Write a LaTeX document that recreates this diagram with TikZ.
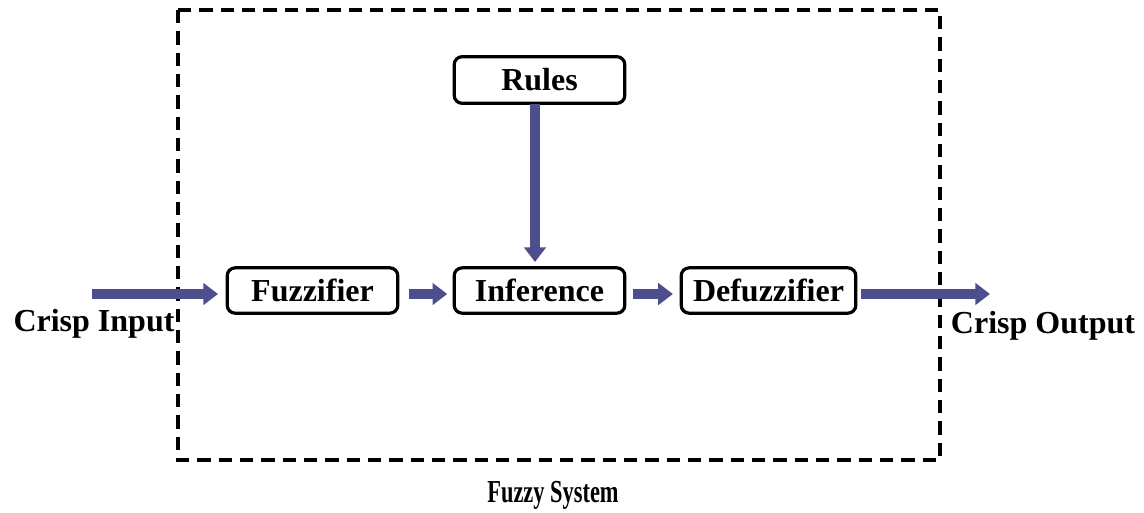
\documentclass[tikz,border=0pt]{standalone}
\usepackage{fontspec}
\usepackage{graphicx}
\setmainfont{Liberation Serif}
\usetikzlibrary{arrows.meta}
\definecolor{arrowblue}{HTML}{4C4E8E}
\begin{document}
\begin{tikzpicture}[x=0.75pt,y=-0.75pt,
  blk/.style={draw=black,line width=2.4pt,rounded corners=6pt,fill=white,font=\fontsize{24}{28}\selectfont\bfseries,inner sep=0pt},
  flow/.style={draw=arrowblue,line width=7.5pt,-{Triangle[length=11pt,width=16pt]}},
  lbl/.style={font=\fontsize{24}{28}\selectfont\bfseries,inner sep=0pt}]
\useasboundingbox (0,0) rectangle (1144,512);
\draw[line width=2.6pt,dash pattern=on 10pt off 6pt] (178,10) rectangle (940,460);
\node[blk,minimum width=128pt,minimum height=35pt] (rules) at (539.5,80) {Rules};
\node[blk,minimum width=128pt,minimum height=34pt] (fuzz) at (312.5,290.5) {Fuzzifier};
\node[blk,minimum width=128pt,minimum height=34pt] (inf) at (539.5,290.5) {Inference};
\node[blk,minimum width=131pt,minimum height=34pt] (def) at (768.5,290.5) {Defuzzifier};
\coordinate (inA) at (92,294);
\coordinate (inB) at (218,294);
\coordinate (outB) at (990,294);
\draw[flow] (inA) -- (inB);
\draw[flow] ([xshift=7pt]fuzz.east |- 0,294) -- ([xshift=-4pt]inf.west |- 0,294);
\draw[flow] ([xshift=5pt]inf.east |- 0,294) -- ([xshift=-5pt]def.west |- 0,294);
\draw[flow] ([xshift=3pt]def.east |- 0,294) -- (outB);
\draw[flow] (535,104) -- (535,262);
\node[lbl] (cin) at (94,324) {Crisp Input};
\node[lbl] (cout) at (1043,326) {Crisp Output};
\node[lbl] (fs) at (553,495) {\scalebox{0.7}[1]{Fuzzy System}};
\end{tikzpicture}
\end{document}
